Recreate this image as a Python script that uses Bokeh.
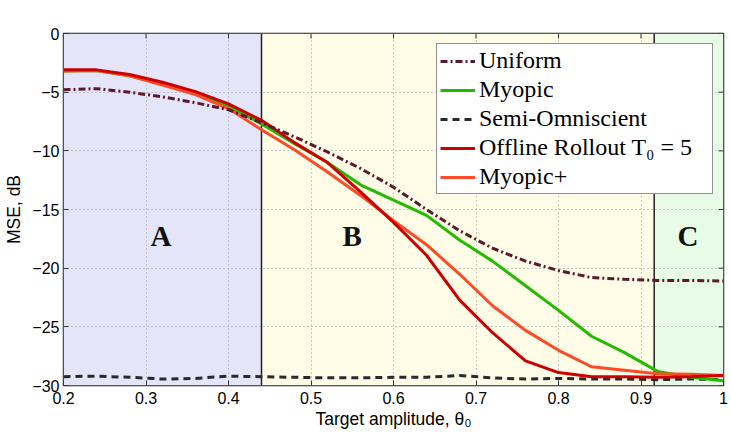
import math
from bokeh.plotting import figure
from bokeh.models import (Range1d, FixedTicker, BoxAnnotation, Span,
                          Legend, LegendItem, CustomJSTickFormatter)
from bokeh.core.properties import value
from bokeh.embed import file_html
from bokeh.resources import INLINE

# ---------------- data ----------------
theta = [0.20, 0.24, 0.28, 0.32, 0.36, 0.40, 0.44, 0.48, 0.52, 0.56, 0.60,
         0.64, 0.68, 0.72, 0.76, 0.80, 0.84, 0.88, 0.92, 0.96, 1.00]

uniform = [-4.8, -4.7, -5.0, -5.4, -5.9, -6.5, -7.6, -8.8, -10.1, -11.5, -13.1,
           -15.0, -16.8, -18.3, -19.4, -20.2, -20.8, -20.95, -21.05, -21.05, -21.1]
myopic = [-3.2, -3.15, -3.6, -4.3, -5.1, -6.2, -7.7, -9.4, -11.0, -12.9, -14.2,
          -15.5, -17.6, -19.4, -21.5, -23.6, -25.8, -27.2, -28.8, -29.3, -29.6]
semi_omniscient = [-29.25, -29.2, -29.3, -29.45, -29.4, -29.2, -29.25, -29.3, -29.35, -29.35, -29.3,
                   -29.3, -29.15, -29.35, -29.45, -29.4, -29.45, -29.45, -29.5, -29.45, -29.5]
offline_rollout = [-3.1, -3.1, -3.5, -4.15, -4.95, -6.0, -7.4, -9.3, -11.0, -13.5, -16.1,
                   -18.9, -22.7, -25.5, -27.9, -28.9, -29.25, -29.25, -29.3, -29.25, -29.15]
myopic_plus = [-3.2, -3.15, -3.6, -4.4, -5.2, -6.4, -8.2, -9.9, -11.8, -13.8, -15.95,
               -18.0, -20.5, -23.2, -25.3, -27.0, -28.4, -28.7, -29.0, -29.05, -29.15]

series_labels = ["Uniform", "Myopic", "Semi-Omniscient", "Offline Rollout T\u2080 = 5", "Myopic+"]

x_ticks = [0.2, 0.3, 0.4, 0.5, 0.6, 0.7, 0.8, 0.9, 1.0]
y_ticks = [-30, -25, -20, -15, -10, -5, 0]

region_edges = [0.2, 0.44, 0.916, 1.0]
region_names = ["A", "B", "C"]
region_label_x = [0.318, 0.55, 0.957]
region_label_y = [-17.3, -17.3, -17.3]

X_MIN, X_MAX = 0.2, 1.0
Y_MIN, Y_MAX = -30, 0

# ---------------- figure ----------------
p = figure(width=731, height=439, x_range=Range1d(X_MIN, X_MAX), y_range=Range1d(Y_MIN, Y_MAX),
           output_backend="svg", toolbar_location=None,
           min_border_left=63, min_border_right=8, min_border_top=33, min_border_bottom=54,
           background_fill_color="white", border_fill_color="white")
p.outline_line_color = "#222222"
p.outline_line_width = 1.5

# regions
region_colors = ["#E5E5FA", "#FFFDE8", "#E8FBE6"]
for i in range(3):
    p.add_layout(BoxAnnotation(left=region_edges[i], right=region_edges[i + 1],
                               fill_color=region_colors[i], fill_alpha=1.0,
                               line_color=None, level="image"))

# grid
for g, t in ((p.xgrid, x_ticks), (p.ygrid, y_ticks)):
    g.ticker = FixedTicker(ticks=t)
    g.grid_line_color = "#9a9a9a"
    g.grid_line_dash = "1 3"
    g.grid_line_width = 1

# boundaries
for e in region_edges[1:3]:
    p.add_layout(Span(location=e, dimension="height", line_color="#222222",
                      line_width=1.5, level="underlay"))

# axes
xfmt = CustomJSTickFormatter(code="return String(Math.round(tick*10)/10);")
yfmt = CustomJSTickFormatter(code="return tick < 0 ? '\\u2212' + Math.abs(tick) : String(tick);")

xa = p.xaxis[0]
ya = p.yaxis[0]
xa.ticker = FixedTicker(ticks=x_ticks)
ya.ticker = FixedTicker(ticks=y_ticks)
xa.formatter = xfmt
ya.formatter = yfmt
xa.axis_label = "Target amplitude, \u03b8\u2080"
ya.axis_label = "MSE, dB"
for a in (xa, ya):
    a.axis_line_color = None
    a.major_tick_in = 5
    a.major_tick_out = 0
    a.major_tick_line_color = "#333333"
    a.minor_tick_line_color = None
    a.major_label_text_font = "Liberation Sans"
    a.major_label_text_font_size = "16px"
    a.major_label_text_color = "black"
    a.axis_label_text_font = "Liberation Sans"
    a.axis_label_text_font_size = "17.5px"
    a.axis_label_text_font_style = "normal"
    a.axis_label_text_color = "black"
xa.major_label_standoff = 6
xa.axis_label_standoff = 2
ya.major_label_standoff = 4
ya.axis_label_standoff = 5

# tick marks on the top and right edges of the frame
p.ray(x=x_ticks, y=[Y_MAX] * len(x_ticks), length=5, length_units="screen",
      angle=-math.pi / 2, line_color="#333333", line_width=1)
p.ray(x=[X_MAX] * len(y_ticks), y=y_ticks, length=5, length_units="screen",
      angle=math.pi, line_color="#333333", line_width=1)

# lines
r_semi = p.line(theta, semi_omniscient, line_color="#262a2a", line_width=3, line_dash="7 5")
r_myo = p.line(theta, myopic, line_color="#22bb00", line_width=3)
r_plus = p.line(theta, myopic_plus, line_color="#ff4a26", line_width=3)
r_off = p.line(theta, offline_rollout, line_color="#cc0000", line_width=3)
r_uni = p.line(theta, uniform, line_color="#5a1a2e", line_width=3, line_dash="7 3 2 3")

# region letters
p.text(x=region_label_x, y=region_label_y, text=region_names,
       text_font=value("Liberation Serif"), text_font_style="bold", text_font_size="29px",
       text_align="center", text_baseline="middle", text_color="#111111")

legend = Legend(items=[LegendItem(label=series_labels[0], renderers=[r_uni]),
                       LegendItem(label=series_labels[1], renderers=[r_myo]),
                       LegendItem(label=series_labels[2], renderers=[r_semi]),
                       LegendItem(label=series_labels[3], renderers=[r_off]),
                       LegendItem(label=series_labels[4], renderers=[r_plus])],
                location="top_right")
legend.label_text_font = "Liberation Serif"
legend.label_text_font_size = "24px"
legend.label_text_color = "black"
legend.border_line_color = "#222222"
legend.border_line_width = 1.5
legend.background_fill_color = "white"
legend.background_fill_alpha = 1.0
legend.glyph_width = 35
legend.glyph_height = 26
legend.label_height = 26
legend.label_width = 230
legend.spacing = 2
legend.padding = 3
legend.margin = 10
legend.label_standoff = 4
p.add_layout(legend)

open("out.html", "w").write(file_html(p, INLINE))
